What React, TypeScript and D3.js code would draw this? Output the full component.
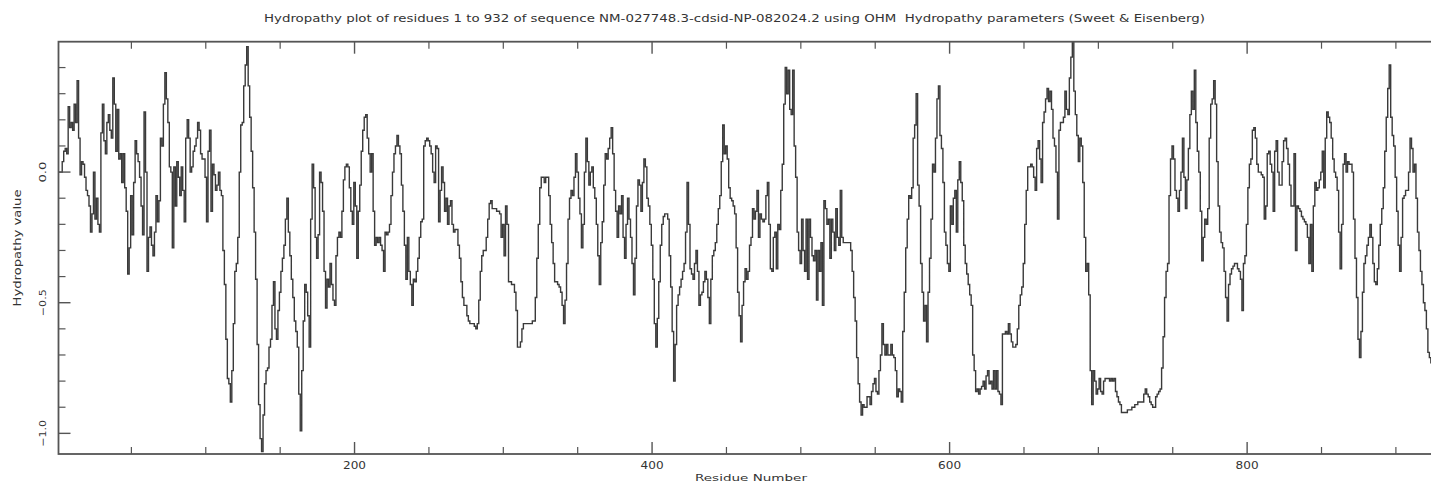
import React from "react";
import * as d3 from "d3";

// Hydropathy values (OHM, Sweet & Eisenberg), one per residue
const hydropathy1: number[] = [
  0.00, 0.00, 0.00, 0.04, 0.08, 0.09, 0.07, 0.25, 0.17, 0.19,
  0.16, 0.26, 0.19, 0.35, 0.13, -0.01, 0.04, 0.03, -0.02, -0.07,
  -0.09, -0.13, -0.23, -0.16, 0.00, -0.18, -0.10, -0.20, -0.23, 0.15,
  0.26, 0.12, 0.07, 0.19, 0.22, 0.16, 0.13, 0.36, 0.26, 0.08,
  0.24, 0.05, 0.07, -0.04, 0.07, -0.06, -0.15, -0.39, -0.29, -0.09,
  -0.24, -0.04, 0.12, 0.07, 0.04, -0.02, -0.13, -0.24, 0.23, 0.00,
  -0.38, -0.25, -0.21, -0.28, -0.32, -0.23, -0.09, -0.19, -0.11, 0.13,
  0.10, 0.26, 0.38, 0.28, 0.19, 0.02, 0.00, -0.29, 0.02, -0.13,
  0.04, -0.02, -0.09, 0.02, -0.07, -0.19, 0.13, 0.20, 0.13, 0.00,
  0.02, 0.08, 0.10, 0.13, 0.19, 0.16, 0.07, 0.05, 0.05, -0.02,
  -0.19, 0.08, 0.16, -0.15, 0.03, -0.01, -0.07, -0.05, 0.00, -0.07,
  -0.09, -0.30, -0.43, -0.64, -0.79, -0.81, -0.88, -0.76, -0.58, -0.38,
  -0.35, -0.25, 0.00, 0.18, 0.19, 0.33, 0.41, 0.48, 0.33, 0.21,
  0.08, -0.06, -0.23, -0.41, -0.66, -0.89, -1.02, -1.07, -0.93, -0.81,
  -0.76, -0.75, -0.67, -0.64, -0.51, -0.42, -0.60, -0.64, -0.53, -0.46,
  -0.38, -0.33, -0.28, -0.18, -0.10, -0.23, -0.32,
];

const hydropathy2: number[] = [
  -0.41, -0.48, -0.57, -0.61, -0.67, -0.85, -0.99, -0.76, -0.57, -0.43,
  -0.46, -0.55, -0.67, -0.18, 0.03, -0.06, -0.25, -0.33, -0.24, 0.00,
  -0.04, -0.15, -0.38, -0.52, -0.41, -0.44, -0.35, -0.43, -0.49, -0.51,
  -0.32, -0.25, -0.23, -0.25, -0.15, -0.03, 0.02, 0.03, 0.02, -0.06,
  -0.15, -0.20, -0.04, -0.13, -0.33, -0.15, -0.05, 0.08, 0.16, 0.21,
  0.22, 0.13, 0.07, 0.00, 0.07, -0.15, -0.28, -0.25, -0.27, -0.25,
  -0.28, -0.30, -0.38, -0.23, -0.24, -0.23, -0.20, -0.09, 0.00, 0.07,
  0.10, 0.14, 0.10, 0.07, -0.05, -0.15, -0.28, -0.41, -0.25, -0.38,
  -0.43, -0.51, -0.41, -0.42, -0.38, -0.33, -0.25, -0.19, -0.18, 0.10,
  0.12, 0.13, 0.12, 0.10, 0.07, 0.00, -0.04, 0.10, 0.09, -0.19,
  -0.07, 0.02, -0.04, -0.15, -0.10, -0.20, -0.13, -0.11, -0.20, -0.23,
  -0.22, -0.22, -0.28, -0.33, -0.42, -0.48, -0.51, -0.51, -0.55, -0.57,
  -0.58, -0.58, -0.58, -0.59, -0.60, -0.58, -0.49, -0.38, -0.32, -0.30,
  -0.30, -0.25, -0.18, -0.12, -0.11, -0.14, -0.14, -0.14, -0.15, -0.15,
  -0.16, -0.25, -0.20, -0.32, -0.13, -0.20, -0.42, -0.42, -0.43, -0.43,
  -0.46, -0.53, -0.67, -0.67,
];

const hydropathy3: number[] = [
  -0.65, -0.60, -0.58, -0.58, -0.58, -0.58, -0.58, -0.58, -0.57, -0.57,
  -0.48, -0.33, -0.20, -0.06, -0.02, -0.02, -0.04, -0.02, -0.02, -0.09,
  -0.20, -0.27, -0.35, -0.42, -0.42, -0.43, -0.44, -0.46, -0.51, -0.58,
  -0.49, -0.35, -0.18, -0.10, -0.07, -0.09, -0.02, 0.07, 0.00, -0.10,
  -0.16, -0.29, -0.20, 0.00, 0.13, 0.04, -0.05, 0.00, 0.02, -0.06,
  -0.10, -0.20, -0.32, -0.43, -0.27, -0.19, -0.05, 0.07, 0.05, 0.09,
  0.13, 0.17, 0.07, -0.07, -0.15, -0.25, -0.13, -0.16, -0.09, -0.25,
  -0.33, -0.20, -0.10, -0.18, -0.25, -0.35, -0.47, -0.33, -0.13, -0.03,
  -0.05, -0.15, -0.04, 0.05, 0.02, -0.10, -0.13, -0.20, -0.28, -0.41,
  -0.58, -0.67, -0.56, -0.42, -0.28, -0.20, -0.17, -0.16, -0.16, -0.18,
  -0.32, -0.44, -0.61, -0.80, -0.66, -0.51, -0.47, -0.44, -0.41, -0.38,
  -0.35, -0.23, -0.04, -0.20, -0.37, -0.39, -0.41, -0.35, -0.30, -0.38,
  -0.51, -0.47, -0.46, -0.42, -0.38, -0.41, -0.48, -0.58, -0.41, -0.32,
  -0.30, -0.27, -0.20, -0.14, -0.09, 0.04, 0.18, 0.07, 0.10, 0.05,
  -0.06, -0.10, -0.11, -0.13, -0.16, -0.29, -0.46, -0.55, -0.65, -0.51,
  -0.42, -0.37, -0.41, -0.38, -0.28,
];

const hydropathy4: number[] = [
  -0.25, -0.14, -0.18, -0.15, -0.07, -0.25, -0.16, -0.18, -0.19, -0.18,
  -0.09, -0.04, -0.20, -0.37, -0.38, -0.25, -0.23, -0.37, -0.20, -0.22,
  -0.07, 0.03, 0.26, 0.40, 0.30, 0.39, 0.24, 0.22, 0.39, 0.10,
  -0.02, -0.23, -0.30, -0.35, -0.18, -0.30, -0.38, -0.18, -0.41, -0.18,
  -0.25, -0.32, -0.34, -0.30, -0.49, -0.30, -0.38, -0.27, -0.51, -0.11,
  -0.14, -0.20, -0.18, -0.33, -0.18, -0.23, -0.30, -0.14, -0.25, -0.28,
  -0.07, -0.25, -0.27, -0.27, -0.27, -0.27, -0.27, -0.30, -0.38, -0.48,
  -0.57, -0.71, -0.81, -0.88, -0.93, -0.89, -0.90, -0.90, -0.86, -0.86,
  -0.89, -0.84, -0.81, -0.79, -0.84, -0.85, -0.76, -0.70, -0.58, -0.66,
  -0.70, -0.66, -0.70, -0.70, -0.66, -0.70, -0.71, -0.76, -0.86, -0.83,
  -0.84, -0.88, -0.61, -0.46, -0.29, -0.18, -0.09, -0.10, -0.06, 0.13,
  0.18, 0.30, -0.05, -0.13, -0.35, -0.46, -0.57, -0.51, -0.65, -0.46,
  -0.33, -0.18, 0.03, 0.00, 0.13, 0.28, 0.33, 0.14, 0.09, -0.04,
  -0.23, -0.28, -0.35, -0.38, -0.13, -0.20, -0.10, -0.07, -0.23, -0.03,
  0.04, -0.04, -0.11, -0.28, -0.35, -0.39, -0.43, -0.47, -0.51, -0.70,
  -0.76, -0.84, -0.83, -0.85,
];

const hydropathy5: number[] = [
  -0.83, -0.82, -0.80, -0.83, -0.78, -0.76, -0.81, -0.80, -0.83, -0.76,
  -0.83, -0.76, -0.84, -0.85, -0.89, -0.62, -0.62, -0.61, -0.62, -0.58,
  -0.62, -0.65, -0.67, -0.67, -0.66, -0.60, -0.51, -0.47, -0.44, -0.35,
  -0.20, -0.07, 0.02, 0.02, 0.03, 0.02, -0.02, -0.07, 0.09, 0.12,
  0.05, -0.04, 0.19, 0.23, 0.28, 0.32, 0.27, 0.31, 0.24, 0.13,
  0.10, 0.00, -0.18, 0.16, 0.19, 0.19, 0.21, 0.31, 0.24, 0.22,
  0.36, 0.44, 0.50, 0.31, 0.22, 0.14, 0.04, 0.13, 0.10, -0.04,
  -0.25, -0.38, -0.35, -0.47, -0.76, -0.89, -0.76, -0.80, -0.85, -0.83,
  -0.79, -0.84, -0.85, -0.80, -0.79, -0.79, -0.79, -0.80, -0.79, -0.80,
  -0.79, -0.84, -0.86, -0.88, -0.89, -0.92, -0.92, -0.92, -0.92, -0.91,
  -0.91, -0.91, -0.90, -0.90, -0.89, -0.89, -0.88, -0.88, -0.88, -0.88,
  -0.85, -0.83, -0.85, -0.86, -0.88, -0.89, -0.90, -0.90, -0.86, -0.85,
  -0.84, -0.83, -0.75, -0.63, -0.48, -0.38, -0.35, -0.09, 0.05, 0.10,
  0.05, -0.07, -0.10, -0.15, -0.07, 0.00, 0.13, -0.02, -0.14, -0.03,
  0.09, 0.22, 0.31, 0.24, 0.39, 0.19, 0.08, 0.00, -0.15, -0.34,
  -0.25, -0.18,
];

const hydropathy6: number[] = [
  -0.20, -0.14, 0.13, 0.26, 0.28, 0.35, 0.26, 0.04, -0.13, -0.23,
  -0.27, -0.29, -0.38, -0.48, -0.57, -0.43, -0.39, -0.37, -0.36, -0.35,
  -0.35, -0.37, -0.38, -0.41, -0.53, -0.35, -0.32, -0.20, -0.06, 0.03,
  0.05, 0.16, 0.17, 0.13, 0.03, 0.00, 0.00, -0.01, -0.02, -0.18,
  -0.13, 0.07, 0.08, 0.03, 0.00, -0.15, 0.08, 0.12, 0.00, -0.05,
  -0.05, 0.04, 0.12, 0.13, 0.09, 0.03, -0.05, -0.13, -0.13, 0.07,
  -0.30, -0.13, -0.14, -0.15, -0.17, -0.18, -0.19, -0.20, -0.25, -0.35,
  -0.20, -0.38, -0.13, -0.04, -0.07, -0.06, -0.03, 0.00, 0.08, -0.06,
  0.13, 0.23, 0.21, 0.19, 0.13, 0.05, 0.00, -0.02, -0.07, -0.23,
  -0.37, -0.20, 0.03, 0.07, 0.00, 0.04, 0.03, 0.03, 0.00, -0.18,
  -0.33, -0.48, -0.64, -0.71, -0.61, -0.46, -0.35, -0.32, -0.28, -0.25,
  -0.20, -0.25, -0.35, -0.42, -0.43, -0.37, -0.28, -0.20, -0.14, -0.06,
  0.08, 0.21, 0.32, 0.41, 0.21, 0.14, 0.10, -0.02, -0.15, -0.28,
  -0.38, -0.25, -0.10, -0.09, -0.07, -0.07, 0.00, 0.13, 0.09, 0.00,
  0.03, -0.10, -0.23, -0.30, -0.38, -0.43, -0.50, -0.53, -0.60, -0.69,
  -0.71, -0.73, -0.72, -0.70, -0.69, -0.67, -0.66, -0.65, -0.63, -0.62,
];

const hydropathy: number[] = [
  ...hydropathy1,
  ...hydropathy2,
  ...hydropathy3,
  ...hydropathy4,
  ...hydropathy5,
  ...hydropathy6,
];

const firstResidue = 1;
const lastResidue = 932;

const xMajorTicks = [200, 400, 600, 800];
const xMinorTicks = [50, 100, 150, 250, 300, 350, 450, 500, 550, 650, 700, 750, 850, 900];
const yMajorTicks = [0.0, -0.5, -1.0];
const yMinorTicks = [0.4, 0.3, 0.2, 0.1, -0.1, -0.2, -0.3, -0.4, -0.6, -0.7, -0.8, -0.9];

const titleText =
  "Hydropathy plot of residues 1 to 932 of sequence NM-027748.3-cdsid-NP-082024.2 using OHM  Hydropathy parameters (Sweet & Eisenberg)";
const xTitle = "Residue Number";
const yTitle = "Hydropathy value";

const W = 1431;
const H = 483;
const left = 58.5;
const right = 1443.5;
const top = 41.7;
const bottom = 454;

const FONT = "'DejaVu Sans', sans-serif";
const INK = "#333";

export default function App() {
  const x = d3.scaleLinear().domain([firstResidue, lastResidue]).range([left, right]);
  const y = d3.scaleLinear().domain([-1.079, 0.499]).range([bottom, top]);

  const line = d3
    .line<number>()
    .x((_, i) => x(firstResidue + i))
    .y((d) => y(d))
    .curve(d3.curveStep);

  const majorLen = 12;
  const minorLen = 7;
  const fmtY = (v: number) => (v < 0 ? "\u2212" + Math.abs(v).toFixed(1) : v.toFixed(1));

  return (
    <svg
      width={W}
      height={H}
      viewBox={`0 0 ${W} ${H}`}
      style={{ position: "fixed", left: 0, top: 0, background: "#fff" }}
    >
      <defs>
        <clipPath id="plot-area">
          <rect x={left} y={top} width={right - left} height={bottom - top} />
        </clipPath>
      </defs>
      <rect x={0} y={0} width={W} height={H} fill="#fff" />

      {/* hydropathy trace */}
      <path
        d={line(hydropathy) ?? ""}
        fill="none"
        stroke="#3a3a3a"
        strokeWidth={1.4}
        clipPath="url(#plot-area)"
      />

      {/* frame */}
      <rect
        x={left}
        y={top}
        width={right - left}
        height={bottom - top}
        fill="none"
        stroke="#555"
        strokeWidth={1.8}
      />

      {/* x ticks, bottom and top */}
      {xMajorTicks.map((t) => (
        <g key={`xM${t}`} stroke="#555" strokeWidth={1.4}>
          <line x1={x(t)} x2={x(t)} y1={bottom} y2={bottom - majorLen} />
          <line x1={x(t)} x2={x(t)} y1={top} y2={top + majorLen} />
        </g>
      ))}
      {xMinorTicks.map((t) => (
        <g key={`xm${t}`} stroke="#555" strokeWidth={1.2}>
          <line x1={x(t)} x2={x(t)} y1={bottom} y2={bottom - minorLen} />
          <line x1={x(t)} x2={x(t)} y1={top} y2={top + minorLen} />
        </g>
      ))}

      {/* y ticks, left and right */}
      {yMajorTicks.map((t) => (
        <g key={`yM${t}`} stroke="#555" strokeWidth={1.4}>
          <line x1={left} x2={left + majorLen} y1={y(t)} y2={y(t)} />
          <line x1={right} x2={right - majorLen} y1={y(t)} y2={y(t)} />
        </g>
      ))}
      {yMinorTicks.map((t) => (
        <g key={`ym${t}`} stroke="#555" strokeWidth={1.2}>
          <line x1={left} x2={left + minorLen} y1={y(t)} y2={y(t)} />
          <line x1={right} x2={right - minorLen} y1={y(t)} y2={y(t)} />
        </g>
      ))}

      {/* x tick labels */}
      {xMajorTicks.map((t) => (
        <text
          key={`xl${t}`}
          x={x(t)}
          y={469}
          textAnchor="middle"
          fontFamily={FONT}
          fontSize={10}
          fill={INK}
          textLength={23}
          lengthAdjust="spacingAndGlyphs"
        >
          {t}
        </text>
      ))}

      {/* y tick labels, rotated */}
      {yMajorTicks.map((t) => (
        <text
          key={`yl${t}`}
          transform={`translate(${46},${y(t)}) rotate(-90)`}
          textAnchor="middle"
          fontFamily={FONT}
          fontSize={9.5}
          fill={INK}
          textLength={t === 0 ? 21 : 27}
          lengthAdjust="spacingAndGlyphs"
        >
          {fmtY(t)}
        </text>
      ))}

      {/* titles */}
      <text
        x={264}
        y={22}
        fontFamily={FONT}
        fontSize={10.5}
        fill={INK}
        textLength={941}
        lengthAdjust="spacingAndGlyphs"
        style={{ whiteSpace: "pre" }}
      >
        {titleText}
      </text>
      <text
        x={751}
        y={481}
        textAnchor="middle"
        fontFamily={FONT}
        fontSize={9}
        fill={INK}
        textLength={112}
        lengthAdjust="spacingAndGlyphs"
      >
        {xTitle}
      </text>
      <text
        transform={`translate(${21},${248}) rotate(-90)`}
        textAnchor="middle"
        fontFamily={FONT}
        fontSize={10}
        fill={INK}
        textLength={117}
        lengthAdjust="spacingAndGlyphs"
      >
        {yTitle}
      </text>
    </svg>
  );
}
